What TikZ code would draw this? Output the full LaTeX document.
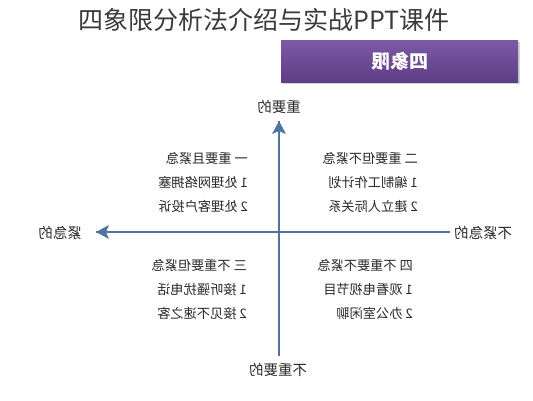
\documentclass[tikz,border=0pt]{standalone}
\usepackage{fontspec}
\setmainfont{Noto Sans CJK SC}
\usetikzlibrary{arrows.meta,shadows}
\definecolor{titlegray}{HTML}{3A3A3A}
\definecolor{txtgray}{HTML}{2A2A2A}
\definecolor{axisblue}{HTML}{4F74A0}
\definecolor{purpletop}{HTML}{7D59A6}
\definecolor{purplebot}{HTML}{5E3E84}
\newcommand{\mir}[1]{\scalebox{-1}[1]{#1}}
\tikzset{
  quad/.style={anchor=east, align=left, text=txtgray, font=\fontsize{13.2}{24}\selectfont, inner sep=0pt},
  axlabel/.style={text=txtgray, font=\fontsize{14.5}{16}\selectfont, inner sep=0pt},
  axisline/.style={draw=axisblue, line width=2.6pt},
}
\begin{document}
\begin{tikzpicture}[x=1pt,y=-1pt]
\useasboundingbox (0,0) rectangle (533,400);
% title
\node[text=titlegray, font=\fontsize{25}{28}\selectfont, inner sep=0pt] (title) at (264,20) {四象限分析法介绍与实战PPT课件};
% purple banner
\node[draw=none, top color=purpletop, bottom color=purplebot, minimum width=237pt, minimum height=42pt, inner sep=0pt,
  drop shadow={shadow xshift=1.5pt, shadow yshift=-2pt, opacity=0.35}] (banner) at (399.5,61) {};
\node[text=white, font=\fontsize{19}{22}\selectfont\bfseries, inner sep=0pt] (bannertext) at (400,61) {\mir{四象限}};
% axes
\coordinate (top) at (279,121);
\coordinate (bot) at (279,356);
\coordinate (left) at (96,232);
\coordinate (right) at (450,232);
\draw[axisline] (bot) -- (top);
\draw[axisline] (right) -- (left);
\fill[axisblue] (top) -- ++(-7,13) -- ++(7,-3) -- ++(7,3) -- cycle;
\fill[axisblue] (left) -- ++(13,-7) -- ++(-3,7) -- ++(3,7) -- cycle;
% axis labels
\node[axlabel] (imp) at (279,107) {\mir{重要的}};
\node[axlabel] (unimp) at (278,370) {\mir{不重要的}};
\node[axlabel] (urg) at (60,233) {\mir{紧急的}};
\node[axlabel] (nurg) at (483,233) {\mir{不紧急的}};
% quadrants
\node[quad] (q1) at (248,183) {\mir{\begin{tabular}{@{}l@{}}一\ 重要且紧急\\ 1 处理网络拥塞\\ 2 处理客户投诉\end{tabular}}};
\node[quad] (q2) at (418,183) {\mir{\begin{tabular}{@{}l@{}}二\ 重要但不紧急\\ 1 编制工作计划\\ 2 建立人际关系\end{tabular}}};
\node[quad] (q3) at (247,290) {\mir{\begin{tabular}{@{}l@{}}三\ 不重要但紧急\\ 1 接听骚扰电话\\ 2 接见不速之客\end{tabular}}};
\node[quad] (q4) at (413,290) {\mir{\begin{tabular}{@{}l@{}}四\ 不重要不紧急\\ 1 观看电视节目\\ 2 办公室闲聊\end{tabular}}};
\end{tikzpicture}
\end{document}
